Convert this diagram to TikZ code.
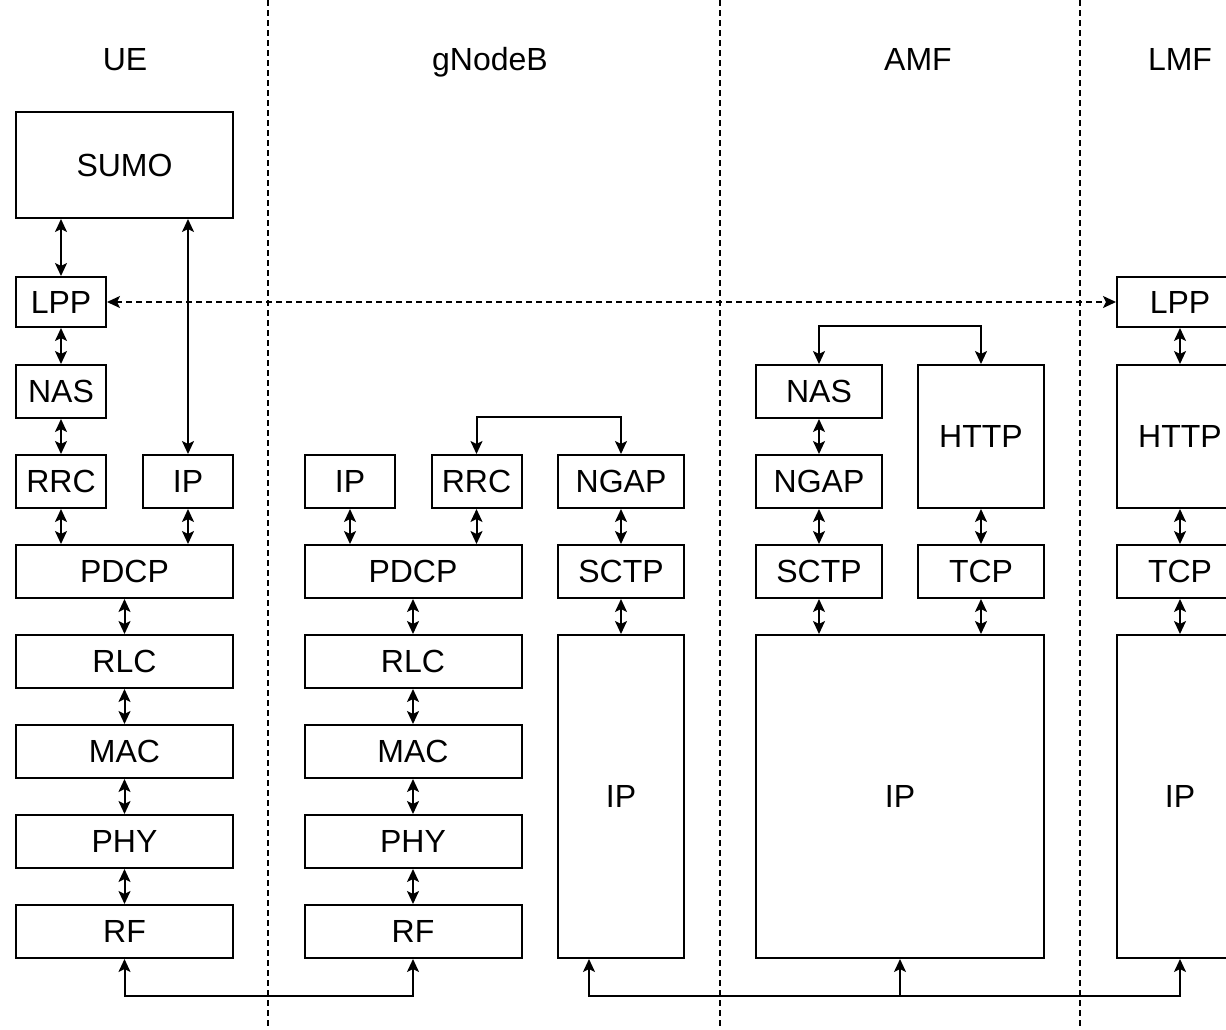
\documentclass[tikz,border=0pt]{standalone}
\usepackage{fontspec}
\setmainfont{Liberation Sans}
\usetikzlibrary{calc,arrows.meta}

\begin{document}
\begin{tikzpicture}[x=0.5pt,y=-0.5pt,>={Stealth[length=6.5pt,width=6pt,inset=1.5pt]},font=\fontsize{16}{19}\selectfont]
        \tikzstyle{layer}=[draw,line width=1pt,inner sep=0pt,minimum height=26.5pt,minimum width=45pt]
        \tikzstyle{wide}=[layer,minimum width=108.5pt]
        \tikzstyle{mid}=[layer,minimum width=63pt]
        \tikzstyle{link}=[<->,line width=1pt]
        \tikzstyle{lane}=[dashed,dash pattern=on 3pt off 2pt,line width=0.6pt]
        \tikzstyle{head}=[anchor=base]
            \useasboundingbox (0,0) rectangle (1226,1029);
            \clip (0,0) rectangle (1226,1029);

            % lanes
            \draw[lane] (268,0) -- (268,1029);
            \draw[lane] (720,0) -- (720,1029);
            \draw[lane] (1080,0) -- (1080,1029);

            \node[head] (hUE) at (125,70) {UE};
            \node[head] (hGNB) at (490,70) {gNodeB};
            \node[head] (hAMF) at (918,70) {AMF};
            \node[head] (hLMF) at (1180,70) {LMF};

            % UE
            \node[wide,minimum height=53pt] (uSUMO) at (124.5,165) {SUMO};
            \node[layer,minimum height=25pt] (uLPP) at (61,302) {LPP};
            \node[layer] (uNAS) at ($(uLPP)+(0,89.5)$) {NAS};
            \node[layer] (uRRC) at ($(uNAS)+(0,90)$) {RRC};
            \node[layer] (uIP) at ($(uRRC)+(127,0)$) {IP};
            \node[wide] (uPDCP) at (124.5,571.5) {PDCP};
            \node[wide] (uRLC) at ($(uPDCP)+(0,90)$) {RLC};
            \node[wide] (uMAC) at ($(uRLC)+(0,90)$) {MAC};
            \node[wide] (uPHY) at ($(uMAC)+(0,90)$) {PHY};
            \node[wide] (uRF) at ($(uPHY)+(0,90)$) {RF};

            % gNodeB
            \node[layer] (gIP) at (350,481.5) {IP};
            \node[layer] (gRRC) at ($(gIP)+(126.5,0)$) {RRC};
            \node[mid] (gNGAP) at (621,481.5) {NGAP};
            \node[wide] (gPDCP) at (413,571.5) {PDCP};
            \node[mid] (gSCTP) at ($(gNGAP)+(0,90)$) {SCTP};
            \node[wide] (gRLC) at ($(gPDCP)+(0,90)$) {RLC};
            \node[wide] (gMAC) at ($(gRLC)+(0,90)$) {MAC};
            \node[wide] (gPHY) at ($(gMAC)+(0,90)$) {PHY};
            \node[wide] (gRF) at ($(gPHY)+(0,90)$) {RF};
            \node[mid,minimum height=161.5pt] (gIPL) at (621,796.5) {IP};

            % AMF
            \node[mid] (aNAS) at (819,391.5) {NAS};
            \node[mid,minimum height=71.5pt] (aHTTP) at (981,436.5) {HTTP};
            \node[mid] (aNGAP) at ($(aNAS)+(0,90)$) {NGAP};
            \node[mid] (aSCTP) at ($(aNGAP)+(0,90)$) {SCTP};
            \node[mid] (aTCP) at (981,571.5) {TCP};
            \node[layer,minimum width=144pt,minimum height=161.5pt] (aIP) at (900,796.5) {IP};

            % LMF
            \node[mid,minimum height=25pt] (lLPP) at (1180,302) {LPP};
            \node[mid,minimum height=71.5pt] (lHTTP) at (1180,436.5) {HTTP};
            \node[mid] (lTCP) at (1180,571.5) {TCP};
            \node[mid,minimum height=161.5pt] (lIP) at (1180,796.5) {IP};

            \draw[link] (uLPP.north |- uSUMO.south) -- (uLPP.north);
            \draw[link] (uIP.north) -- (uIP.north |- uSUMO.south);
            \draw[link,lane,line width=0.9pt] (uLPP.east) -- (lLPP.west);
            \draw[link] (uLPP) -- (uNAS);
            \draw[link] (uNAS) -- (uRRC);
            \draw[link] (uRRC.south) -- (uRRC.south |- uPDCP.north);
            \draw[link] (uIP.south) -- (uIP.south |- uPDCP.north);
            \draw[link] (uPDCP) -- (uRLC);
            \draw[link] (uRLC) -- (uMAC);
            \draw[link] (uMAC) -- (uPHY);
            \draw[link] (uPHY) -- (uRF);

            \draw[link] (gIP.south) -- (gIP.south |- gPDCP.north);
            \draw[link] (gRRC.south) -- (gRRC.south |- gPDCP.north);
            \draw[link] (gRRC.north) -- ++(0,-37) -| (gNGAP.north);
            \draw[link] (gNGAP) -- (gSCTP);
            \draw[link] (gSCTP) -- (gIPL);
            \draw[link] (gPDCP) -- (gRLC);
            \draw[link] (gRLC) -- (gMAC);
            \draw[link] (gMAC) -- (gPHY);
            \draw[link] (gPHY) -- (gRF);

            \draw[link] (aNAS.north) -- ++(0,-38) -| (aHTTP.north);
            \draw[link] (aNAS) -- (aNGAP);
            \draw[link] (aNGAP) -- (aSCTP);
            \draw[link] (aSCTP.south) -- (aSCTP.south |- aIP.north);
            \draw[link] (aHTTP) -- (aTCP);
            \draw[link] (aTCP.south) -- (aTCP.south |- aIP.north);

            \draw[link] (lLPP) -- (lHTTP);
            \draw[link] (lHTTP) -- (lTCP);
            \draw[link] (lTCP) -- (lIP);

            % bottom links
            \draw[link] (uRF.south) -- ++(0,37) -| (gRF.south);
            \coordinate (bus) at ($(aIP.south)+(0,37)$);
            \draw[link] ($(gIPL.south)+(-32,0)$) |- (bus -| lIP.south) -- (lIP.south);
            \draw[->,line width=1pt] (bus) -- (aIP.south);

        \end{tikzpicture}
\end{document}
